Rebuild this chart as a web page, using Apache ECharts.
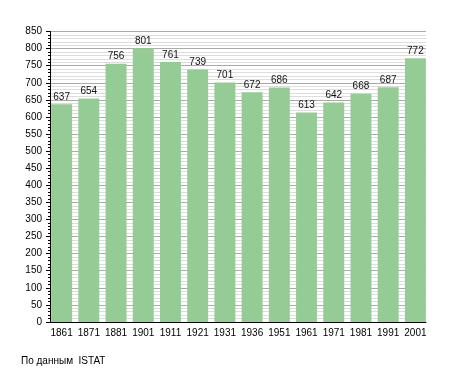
<!DOCTYPE html>
<html><head><meta charset="utf-8">
<script src="https://cdn.jsdelivr.net/npm/echarts@6/dist/echarts.min.js"></script>
<style>html,body{margin:0;padding:0;background:#fff}#c{width:455px;height:373px}</style>
</head><body><div id="c"></div>
<script>
var years = ['1861','1871','1881','1901','1911','1921','1931','1936','1951','1961','1971','1981','1991','2001'];
var population = [637,654,756,801,761,739,701,672,686,613,642,668,687,772];
var yMin = 0, yMax = 850, yStep = 50;
var sourceText = 'По данным  ISTAT';

var font = 'Liberation Sans, Arial, sans-serif';
var chart = echarts.init(document.getElementById('c'), null, {renderer:'canvas'});
chart.setOption({
  animation: false,
  backgroundColor: '#fff',
  graphic: [{type:'text', left: 21, top: 356, style:{text: sourceText, font: '10px ' + font, fill:'#000'}}],
  grid: [
    {left: 50, right: 29, top: 31.5, bottom: 51},
    {left: 48, right: 26, top: 31.5, bottom: 51}
  ],
  xAxis: [
    {gridIndex:0, type:'category', data: years, axisLine:{lineStyle:{color:'#000', width:1}}, axisTick:{show:false}, axisLabel:{show:false}},
    {gridIndex:1, type:'category', data: years, axisLine:{show:false}, axisTick:{show:false},
     axisLabel:{color:'#000', fontFamily: font, fontSize: 10, margin: 6, interval: 0}}
  ],
  yAxis: [
    {gridIndex:0, type:'value', min:yMin, max:yMax, interval:yStep,
     axisLine:{show:true, lineStyle:{color:'#000'}},
     axisTick:{show:true, length:4, lineStyle:{color:'#000'}},
     minorTick:{show:true, splitNumber:5, length:2, lineStyle:{color:'#000'}},
     axisLabel:{color:'#000', fontFamily: font, fontSize: 10, margin: 8},
     splitLine:{show:true, lineStyle:{color:'#aaaaaa', width:1}},
     minorSplitLine:{show:true, lineStyle:{color:'#dddddd', width:1}}},
    {gridIndex:1, type:'value', min:yMin, max:yMax, interval:yStep, show:false, splitLine:{show:false}}
  ],
  series: [{
    type:'bar', xAxisIndex:1, yAxisIndex:1, data: population,
    barCategoryGap: '23%',
    itemStyle:{color:'#95cb95'},
    label:{show:true, position:'top', distance:2, color:'#111', fontFamily: font, fontSize: 10}
  }]
});
</script></body></html>
